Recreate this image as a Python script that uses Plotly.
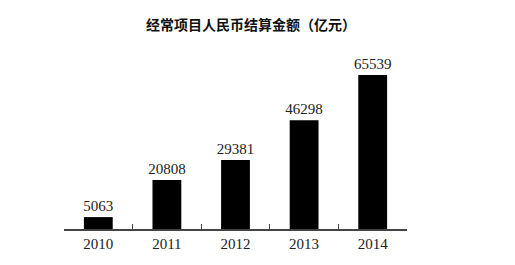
import plotly.graph_objects as go

years = ["2010", "2011", "2012", "2013", "2014"]
values = [5063, 20808, 29381, 46298, 65539]
title_text = "经常项目人民币结算金额（亿元）"

fig = go.Figure(go.Bar(
    x=years, y=values,
    marker=dict(color="black", line=dict(width=0)),
    width=0.42,
    text=[str(v) for v in values],
    textposition="outside",
    constraintext="none",
    textfont=dict(family="Liberation Serif", size=15, color="#222"),
    cliponaxis=False,
))

fig.update_layout(
    width=515, height=265,
    margin=dict(l=64, r=108, t=45, b=36),
    paper_bgcolor="white", plot_bgcolor="white",
    showlegend=False,
    title=dict(text="<b>" + title_text + "</b>", x=251/515, xanchor="center",
               y=1 - 25/265, yanchor="middle",
               font=dict(family="Noto Sans CJK SC", size=14, color="#111")),
    xaxis=dict(showline=True, linecolor="#444", linewidth=1.5,
               ticks="inside", ticklen=5, tickcolor="#444", tickwidth=1,
               tickson="boundaries",
               tickfont=dict(family="Liberation Serif", size=15, color="#222"),
               showgrid=False, zeroline=False, fixedrange=True),
    yaxis=dict(visible=False, range=[0, 65539 * (229 - 45) / 154], showgrid=False,
               zeroline=False),
)

fig.write_html("out.html")
